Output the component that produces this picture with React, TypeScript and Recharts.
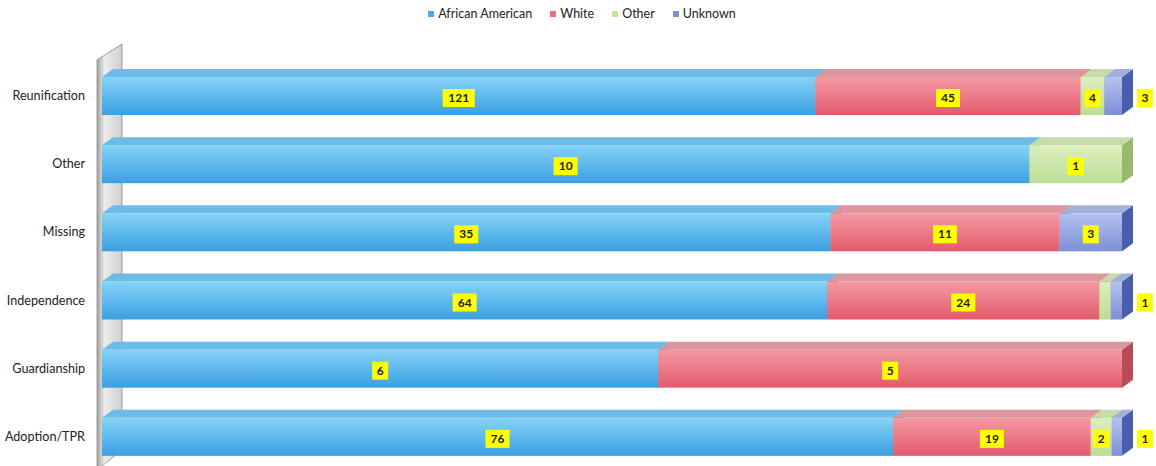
import { BarChart, Bar, XAxis, YAxis, Legend, LabelList } from 'recharts';

const categories = ['Reunification', 'Other', 'Missing', 'Independence', 'Guardianship', 'Adoption/TPR'];
const africanAmerican = [121, 10, 35, 64, 6, 76];
const white = [45, 0, 11, 24, 5, 19];
const other = [4, 1, 0, 1, 0, 2];
const unknown = [3, 0, 3, 1, 0, 1];

const seriesNames = ['African American', 'White', 'Other', 'Unknown'];
const keys = ['aa', 'white', 'other', 'unknown'];
const counts = [africanAmerican, white, other, unknown];

// front / top / side colours for the 3d look
const colors = [
  { light: '#86d3f7', dark: '#3a9fe2', top: '#6cbce8', side: '#2f78bd', icon: '#4aa9e6' },
  { light: '#f49aa3', dark: '#e35a6b', top: '#dc979e', side: '#b94a58', icon: '#e8707e' },
  { light: '#dcefc0', dark: '#bcdc92', top: '#c6dca8', side: '#98b86c', icon: '#c4e39a' },
  { light: '#b4c2f0', dark: '#7d8fd8', top: '#a2b0de', side: '#4a5eae', icon: '#7d8fd8' },
];

const DX = 11;
const DY = 8;

const data = categories.map((name, i) => {
  const total = counts.reduce((s, arr) => s + arr[i], 0);
  const row: Record<string, number | string> = { name };
  keys.forEach((k, j) => {
    row[k] = (counts[j][i] / total) * 100;
    row[k + 'N'] = counts[j][i];
  });
  return row;
});

const lastSeries = categories.map((_, i) => {
  let last = 0;
  counts.forEach((arr, j) => {
    if (arr[i] > 0) last = j;
  });
  return last;
});

const makeShape = (j: number) => (props: any) => {
  const { x, y, width, height } = props;
  if (!width || width <= 0) return <g />;
  const c = colors[j];
  return (
    <g>
      <polygon
        points={`${x + width},${y} ${x + width + DX},${y - DY} ${x + width + DX},${y + height - DY} ${x + width},${y + height}`}
        fill={c.side}
      />
      <polygon
        points={`${x},${y} ${x + DX},${y - DY} ${x + width + DX},${y - DY} ${x + width},${y}`}
        fill={c.top}
      />
      <rect x={x} y={y} width={width} height={height} fill={`url(#grad${j})`} />
    </g>
  );
};

const makeLabel = (j: number) => (props: any) => {
  const { x, y, width, height, value, index } = props;
  if (!value) return null;
  let cx = x + width / 2;
  if (width < 18) {
    if (lastSeries[index] !== j) return null;
    cx = x + width + DX + 12;
  }
  const cy = y + height / 2 + 2;
  const w = String(value).length * 8 + 8;
  return (
    <g>
      <rect x={cx - w / 2} y={cy - 9} width={w} height={18} fill="#ffff00" />
      <text x={cx} y={cy + 4} textAnchor="middle" fontSize={12} fontWeight="bold" fill="#222" fontFamily="Lato, sans-serif">
        {value}
      </text>
    </g>
  );
};

const renderTick = (props: any) => {
  const { x, y, payload } = props;
  return (
    <text x={x - 9} y={y + 4} textAnchor="end" fontSize={12.6} fill="#222" fontFamily="Lato, sans-serif">
      {payload.value}
    </text>
  );
};

const renderLegend = () => (
  <div style={{ display: 'flex', justifyContent: 'center', gap: 18, fontFamily: 'Lato, sans-serif', fontSize: 12.5, color: '#222', paddingLeft: 8 }}>
    {seriesNames.map((n, j) => (
      <span key={n} style={{ display: 'flex', alignItems: 'center' }}>
        <span style={{ display: 'inline-block', width: 6, height: 6, background: colors[j].icon, marginRight: 4, marginTop: 1 }} />
        {n}
      </span>
    ))}
  </div>
);

export default function App() {
  return (
    <div style={{ position: 'absolute', left: 0, top: 0, width: 1156, height: 466, overflow: 'hidden', background: '#fff' }}>
      <svg width={1156} height={466} style={{ position: 'absolute', left: 0, top: 0 }}>
        <defs>
          <linearGradient id="wall" x1="0" y1="0" x2="1" y2="0">
            <stop offset="0" stopColor="#a0a0a0" />
            <stop offset="0.3" stopColor="#ececec" />
            <stop offset="1" stopColor="#cfcfcf" />
          </linearGradient>
        </defs>
        <polygon points="97,60 122,44 122,450 97,470" fill="url(#wall)" stroke="#8a8a8a" strokeWidth={0.8} />
      </svg>
      <div style={{ position: 'absolute', left: 0, top: 0 }}>
        <BarChart
          width={1156}
          height={471}
          data={data}
          layout="vertical"
          margin={{ top: 47, right: 34, bottom: 0, left: 0 }}
          barSize={38}
        >
          <defs>
            {colors.map((c, j) => (
              <linearGradient key={j} id={`grad${j}`} x1="0" y1="0" x2="0" y2="1">
                <stop offset="0" stopColor={c.light} />
                <stop offset="1" stopColor={c.dark} />
              </linearGradient>
            ))}
          </defs>
          <XAxis type="number" domain={[0, 100]} hide />
          <YAxis type="category" dataKey="name" width={102} axisLine={false} tickLine={false} tick={renderTick} />
          <Legend verticalAlign="top" wrapperStyle={{ top: 6, left: 0, width: 1156 }} content={renderLegend} />
          {keys.map((k, j) => (
            <Bar key={k} dataKey={k} name={seriesNames[j]} stackId="s" isAnimationActive={false} shape={makeShape(j)}>
              <LabelList dataKey={k + 'N'} content={makeLabel(j)} />
            </Bar>
          ))}
        </BarChart>
      </div>
    </div>
  );
}
